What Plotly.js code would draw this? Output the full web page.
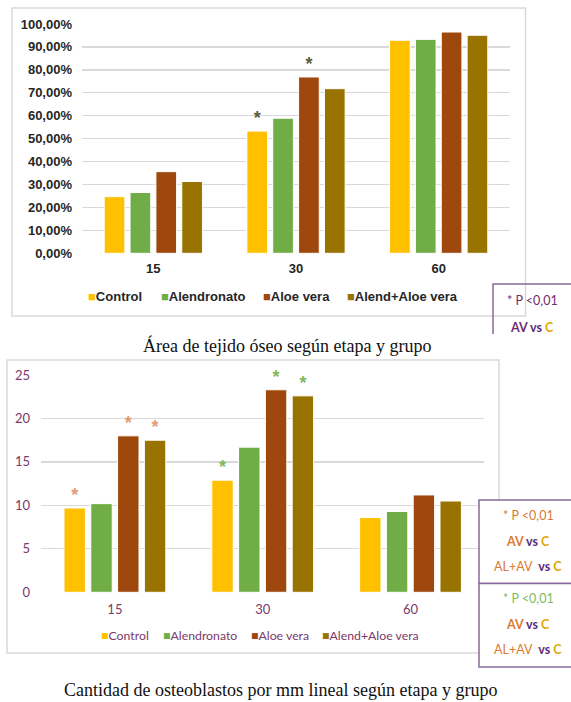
<!DOCTYPE html>
<html>
<head>
<meta charset="utf-8">
<script src="https://cdn.plot.ly/plotly-3.0.1.min.js"></script>
<style>
  html, body { margin: 0; padding: 0; background: #ffffff; }
  #chart { width: 571px; height: 702px; }
</style>
</head>
<body>
<div id="chart"></div>
<script>
// ---------------- DATA ----------------
const stages = ['15', '30', '60'];
const seriesNames = ['Control', 'Alendronato', 'Aloe vera', 'Alend+Aloe vera'];
const seriesColors = ['#FFC000', '#70AD47', '#9E480E', '#997300'];

// Chart 1: Área de tejido óseo (%)
const areaControl     = [24.7, 53.3, 92.9];
const areaAlendronato = [26.5, 58.9, 93.3];
const areaAloeVera    = [35.6, 76.9, 96.5];
const areaAlendAloe   = [31.3, 71.8, 95.1];
const areaStarsControl     = ['', '*', ''];
const areaStarsAlendronato = ['', '', ''];
const areaStarsAloeVera    = ['', '*', ''];
const areaStarsAlendAloe   = ['', '', ''];

// Chart 2: Cantidad de osteoblastos por mm lineal
const osteoControl     = [9.7, 12.9, 8.6];
const osteoAlendronato = [10.2, 16.7, 9.3];
const osteoAloeVera    = [18.0, 23.3, 11.2];
const osteoAlendAloe   = [17.5, 22.6, 10.5];
const osteoStarsControl     = ['*', '*', ''];
const osteoStarsAlendronato = ['', '', ''];
const osteoStarsAloeVera    = ['*', '*', ''];
const osteoStarsAlendAloe   = ['*', '*', ''];

const caption1 = 'Área de tejido óseo según etapa y grupo';
const caption2 = 'Cantidad de osteoblastos por mm lineal según etapa y grupo';

// ---------------- LAYOUT HELPERS ----------------
const W = 571, H = 702;
const X = px => px / W;
const Y = py => 1 - py / H;

const boldFont = 'Liberation Sans, Arial, sans-serif';
const calFont = 'Lato, Carlito, sans-serif';
const darkText = '#262626';
const purpleText = '#7B3A6B';
const starTop = '#5C5B3E';
const starOrange = '#E39B72';
const starGreen = '#7DBA5C';

const areaSeries = [areaControl, areaAlendronato, areaAloeVera, areaAlendAloe];
const areaStars = [areaStarsControl, areaStarsAlendronato, areaStarsAloeVera, areaStarsAlendAloe];
const osteoSeries = [osteoControl, osteoAlendronato, osteoAloeVera, osteoAlendAloe];
const osteoStars = [osteoStarsControl, osteoStarsAlendronato, osteoStarsAloeVera, osteoStarsAlendAloe];
const osteoStarColors = [starOrange, starGreen, starGreen];

const traces = [];
seriesNames.forEach((name, i) => {
  traces.push({
    type: 'bar', name: name, x: stages, y: areaSeries[i],
    xaxis: 'x', yaxis: 'y',
    marker: { color: seriesColors[i], line: { color: '#ffffff', width: 1 } },
    text: areaStars[i], textposition: 'outside', cliponaxis: false,
    constraintext: 'none',
    textfont: { family: boldFont, size: 18, color: starTop, weight: 'bold' },
    hoverinfo: 'skip', showlegend: false
  });
});
seriesNames.forEach((name, i) => {
  traces.push({
    type: 'bar', name: name, x: stages, y: osteoSeries[i],
    xaxis: 'x2', yaxis: 'y2',
    marker: { color: seriesColors[i], line: { color: '#ffffff', width: 1 } },
    text: osteoStars[i], textposition: 'outside', cliponaxis: false,
    constraintext: 'none',
    textfont: { family: boldFont, size: 18, color: osteoStarColors, weight: 'bold' },
    hoverinfo: 'skip', showlegend: false
  });
});

const frameColor = '#D9D9D9';
const boxColor = '#86699A';
const shapes = [
  // chart frames
  { type: 'rect', xref: 'paper', yref: 'paper', x0: X(12), x1: X(525.5), y0: Y(8), y1: Y(316),
    line: { color: frameColor, width: 1.5 }, fillcolor: 'rgba(0,0,0,0)', layer: 'below' },
  { type: 'rect', xref: 'paper', yref: 'paper', x0: X(7), x1: X(499), y0: Y(360), y1: Y(653),
    line: { color: frameColor, width: 1.5 }, fillcolor: 'rgba(0,0,0,0)', layer: 'below' },
  // p-value box, chart 1 (cut at page edge)
  { type: 'path', xref: 'paper', yref: 'paper',
    path: `M ${X(493)} ${Y(334)} L ${X(493)} ${Y(284)} L ${X(580)} ${Y(284)}`,
    line: { color: boxColor, width: 1.5 } },
  // p-value boxes, chart 2
  { type: 'rect', xref: 'paper', yref: 'paper', x0: X(479), x1: X(580), y0: Y(500), y1: Y(583.5),
    line: { color: boxColor, width: 1.5 }, fillcolor: '#ffffff' },
  { type: 'rect', xref: 'paper', yref: 'paper', x0: X(479), x1: X(580), y0: Y(583.5), y1: Y(667),
    line: { color: boxColor, width: 1.5 }, fillcolor: '#ffffff' }
];

const annotations = [];
function addText(text, xpx, ypx, font, xanchor) {
  annotations.push({ xref: 'paper', yref: 'paper', x: X(xpx), y: Y(ypx), text: text,
    showarrow: false, xanchor: xanchor || 'center', yanchor: 'middle', font: font });
}

// captions
addText(caption1, 287, 345, { family: 'Liberation Serif, Times New Roman, serif', size: 18, color: '#111111' });
addText(caption2, 280, 690, { family: 'Liberation Serif, Times New Roman, serif', size: 18, color: '#111111' });

// custom legends (names and colors from the series arrays)
const legend1X = [86, 159, 261, 345];
seriesNames.forEach((name, i) => {
  addText(`<span style="color:${seriesColors[i]}">■</span>${name}`, legend1X[i], 296,
    { family: boldFont, size: 13, color: darkText, weight: 'bold' }, 'left');
});
const legend2X = [99, 161, 249, 320];
seriesNames.forEach((name, i) => {
  addText(`<span style="color:${seriesColors[i]}">■</span>${name}`, legend2X[i], 635.5,
    { family: calFont, size: 12.3, color: purpleText }, 'left');
});

// p-value box texts
const pPurple = '#6E2C6E', vsPurple = '#5B2E7A', gold = '#E0A800', orange = '#DC7A30', green = '#7CBB5A';
addText('* P &lt;0,01', 532, 301, { family: calFont, size: 12.5, color: pPurple });
addText(`<b><span style="color:${pPurple}">AV</span> <span style="color:${vsPurple}">vs</span> <span style="color:${gold}">C</span></b>`,
  532, 327, { family: calFont, size: 12.5, color: pPurple });

addText('* P &lt;0,01', 528, 515, { family: calFont, size: 12.5, color: orange });
addText(`<b><span style="color:${orange}">AV</span> <span style="color:${vsPurple}">vs</span> <span style="color:${gold}">C</span></b>`,
  528, 541.5, { family: calFont, size: 12.5, color: orange });
addText(`<span style="color:${orange}">AL+AV</span>  <b><span style="color:${vsPurple}">vs</span> <span style="color:${gold}">C</span></b>`,
  528, 566, { family: calFont, size: 12.5, color: orange });

addText('* P &lt;0,01', 528, 598, { family: calFont, size: 12.5, color: green });
addText(`<b><span style="color:${orange}">AV</span> <span style="color:${vsPurple}">vs</span> <span style="color:${gold}">C</span></b>`,
  528, 624, { family: calFont, size: 12.5, color: orange });
addText(`<span style="color:${orange}">AL+AV</span>  <b><span style="color:${vsPurple}">vs</span> <span style="color:${gold}">C</span></b>`,
  528, 649, { family: calFont, size: 12.5, color: orange });

const gridColor = '#D9D9D9';
const layout = {
  width: W, height: H,
  margin: { l: 0, r: 0, t: 0, b: 0 },
  paper_bgcolor: '#ffffff', plot_bgcolor: 'rgba(0,0,0,0)',
  separators: ',.',
  barmode: 'group', bargap: 0.275, bargroupgap: 0.2,
  showlegend: false,
  xaxis: {
    domain: [X(82), X(510)], anchor: 'y', type: 'category',
    showgrid: false, showline: false, zeroline: false, ticks: '',
    ticklabelstandoff: 6,
    tickfont: { family: boldFont, size: 13, color: darkText, weight: 'bold' }
  },
  yaxis: {
    domain: [Y(253.3), Y(24)], anchor: 'x', range: [0, 100], dtick: 10,
    tickformat: '.2f', ticksuffix: '%',
    showgrid: true, gridcolor: gridColor, gridwidth: 1.3, zeroline: false, showline: false,
    ticks: '', ticklabelstandoff: 9,
    tickfont: { family: boldFont, size: 13, color: darkText, weight: 'bold' }
  },
  xaxis2: {
    domain: [X(41), X(484.4)], anchor: 'y2', type: 'category',
    showgrid: false, showline: false, zeroline: false, ticks: '',
    ticklabelstandoff: 8,
    tickfont: { family: calFont, size: 13, color: purpleText }
  },
  yaxis2: {
    domain: [Y(592.3), Y(375)], anchor: 'x2', range: [0, 25], dtick: 5,
    showgrid: true, gridcolor: gridColor, gridwidth: 1.3, zeroline: false, showline: false,
    ticks: '', ticklabelstandoff: 10,
    tickfont: { family: calFont, size: 13, color: purpleText }
  },
  shapes: shapes,
  annotations: annotations
};

Plotly.newPlot('chart', traces, layout, { displayModeBar: false, staticPlot: true });
</script>
</body>
</html>
